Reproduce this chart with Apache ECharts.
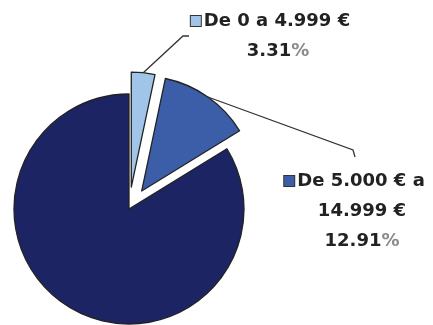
<!DOCTYPE html>
<html>
<head>
<meta charset="utf-8">
<script src="https://cdn.jsdelivr.net/npm/echarts@6/dist/echarts.min.js"></script>
<style>
  html, body { margin: 0; padding: 0; background: #fff; }
  #chart { width: 433px; height: 325px; }
</style>
</head>
<body>
<div id="chart"></div>
<script>
// Income brackets and their share (%)
const categories = ['De 0 a 4.999 €', 'De 5.000 € a\n14.999 €', 'De 15.000 € en adelante'];
const shares = [3.31, 12.91, 83.78];
const sliceColors = ['#a0c5e9', '#3c5ea9', '#1c2464'];
const explodedSlices = [true, true, false];
const labelledSlices = [true, true, false];

const PIE_CENTER = [129, 209];
const PIE_RADIUS = 115;
const EXPLODE = 22;

const chart = echarts.init(document.getElementById('chart'), null, { renderer: 'canvas' });

function labelText(params) {
  const lines = params.name.split('\n');
  const out = [];
  lines.forEach((ln, i) => {
    if (i === 0) out.push('{sq' + params.dataIndex + '|}{gap|}{t|' + ln + '}{sp|}');
    else out.push('{t|' + ln + '}');
  });
  out.push('{t|' + params.value.toFixed(2) + '}{pc|%}');
  return out.join('\n');
}

const textRich = {
  t: { fontFamily: 'DejaVu Sans', fontWeight: 'bold', fontSize: 18, color: '#222', lineHeight: 30 },
  pc: { fontFamily: 'DejaVu Sans', fontWeight: 'bold', fontSize: 18, color: '#8a8a8a', lineHeight: 30 },
  gap: { width: 3 },
  sp: { width: 15, height: 11 },
  sq0: { width: 10, height: 10, backgroundColor: sliceColors[0], borderColor: '#333', borderWidth: 1 },
  sq1: { width: 10, height: 10, backgroundColor: sliceColors[1], borderColor: '#333', borderWidth: 1 }
};

// mid angle of each slice (clockwise from 12 o'clock), used to offset the leader start
const total = shares.reduce((a, b) => a + b, 0);
const midAngles = [];
shares.reduce((acc, v) => { midAngles.push((acc + v / 2) / total * 2 * Math.PI); return acc + v; }, 0);

// label anchor: centre x, top y, and the elbow of the leader line
const labelSpots = [
  { x: 278, y: 6, elbow: [183, 36], end: [189, 36] },
  { x: 362, y: 166, elbow: [353, 150], end: [355, 157] }
];

const sliceData = categories.map((name, i) => ({
  name: name,
  value: shares[i],
  selected: explodedSlices[i],
  itemStyle: { color: sliceColors[i] }
}));

const labelData = categories.map((name, i) => ({
  name: name,
  value: shares[i],
  label: { show: labelledSlices[i] },
  labelLine: { show: labelledSlices[i] }
}));

chart.setOption({
  animation: false,
  series: [{
    type: 'pie',
    center: PIE_CENTER,
    radius: [0, PIE_RADIUS],
    startAngle: 90,
    clockwise: true,
    selectedMode: 'multiple',
    selectedOffset: EXPLODE,
    silent: true,
    itemStyle: { borderColor: '#222', borderWidth: 1.3 },
    emphasis: { disabled: true },
    select: { itemStyle: { borderColor: '#222', borderWidth: 1.3 } },
    label: { show: false },
    labelLine: { show: false },
    data: sliceData
  }, {
    // transparent twin carrying the callout labels
    type: 'pie',
    center: PIE_CENTER,
    radius: [0, PIE_RADIUS],
    startAngle: 90,
    clockwise: true,
    silent: true,
    z: 3,
    avoidLabelOverlap: false,
    itemStyle: { color: 'rgba(0,0,0,0)', borderWidth: 0 },
    emphasis: { disabled: true },
    label: {
      position: 'outside',
      formatter: labelText,
      rich: textRich,
      align: 'center'
    },
    labelLine: {
      lineStyle: { color: '#333', width: 1.3 },
      length: 10,
      length2: 10
    },
    labelLayout: function (params) {
      const i = params.dataIndex;
      const spot = labelSpots[i];
      if (!spot) return {};
      const res = { x: spot.x, y: spot.y, align: 'center', verticalAlign: 'top' };
      if (params.labelLinePoints) {
        const p0 = params.labelLinePoints[0];
        const a = midAngles[i];
        const off = explodedSlices[i] ? EXPLODE : 0;
        const start = [p0[0] + Math.sin(a) * off, p0[1] - Math.cos(a) * off];
        res.labelLinePoints = [start, spot.elbow, spot.end];
      }
      return res;
    },
    data: labelData
  }]
});
</script>
</body>
</html>
